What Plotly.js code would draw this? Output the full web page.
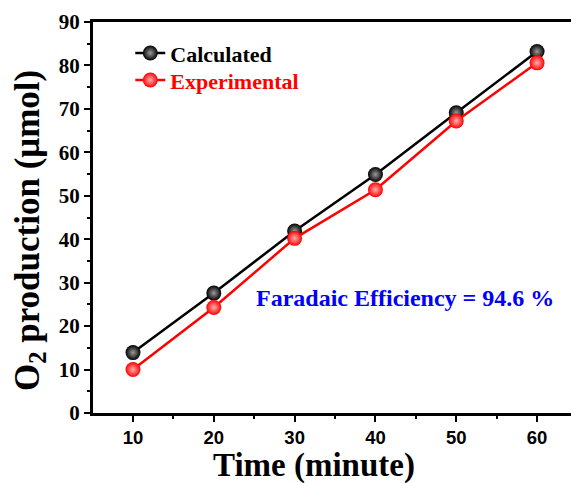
<!DOCTYPE html>
<html><head><meta charset="utf-8">
<script src="https://cdn.plot.ly/plotly-3.0.1.min.js"></script>
<style>html,body{margin:0;padding:0;background:#fff;overflow:hidden}</style>
</head><body>
<div id="chart" style="width:571px;height:483px"></div>
<script>
const timeMin = [10, 20, 30, 40, 50, 60];
const calculated = [13.9, 27.6, 41.9, 54.9, 69.1, 83.2];
const experimental = [10.0, 24.3, 40.2, 51.4, 67.2, 80.6];
const seriesNames = ['Calculated', 'Experimental'];
const xTickLabels = ['10', '20', '30', '40', '50', '60'];
const xTitle = 'Time (minute)';
const yTitle = 'O<sub>2</sub> production (μmol)';
const annotationText = 'Faradaic Efficiency = 94.6 %';

const serif = 'Liberation Serif, Times New Roman, serif';
const sans = 'Liberation Sans, Arial, sans-serif';

const traces = [
  {x: timeMin, y: calculated, name: seriesNames[0], type: 'scatter', mode: 'lines+markers',
   legend: 'legend',
   line: {color: '#000000', width: 2.5},
   marker: {size: 15, color: '#000000', gradient: {type: 'radial', color: '#9a9a9a'}}},
  {x: timeMin, y: experimental, name: '<span style="color:#ff0000">' + seriesNames[1] + '</span>', type: 'scatter', mode: 'lines+markers',
   legend: 'legend2',
   line: {color: '#ff0000', width: 2.5},
   marker: {size: 15, color: '#ff0000', gradient: {type: 'radial', color: '#ffb0b0'}}}
];

const legendFont = {family: serif, size: 22, color: '#000000', weight: 'bold'};
const layout = {
  width: 571, height: 483,
  margin: {l: 93, r: 0, t: 22, b: 70},
  paper_bgcolor: '#ffffff', plot_bgcolor: '#ffffff',
  showlegend: true,
  legend: {x: 0.078, y: 0.974, xanchor: 'left', yanchor: 'top', bgcolor: 'rgba(0,0,0,0)', font: legendFont},
  legend2: {x: 0.078, y: 0.905, xanchor: 'left', yanchor: 'top', bgcolor: 'rgba(0,0,0,0)', font: legendFont},
  xaxis: {range: [5.05, 64.2], tickvals: timeMin, ticktext: xTickLabels,
          showgrid: false, zeroline: false, showline: true, linecolor: '#000', linewidth: 3, mirror: true,
          ticks: 'outside', ticklen: 6, tickwidth: 2, tickcolor: '#000',
          minor: {tickvals: [15,25,35,45,55], ticks: 'outside', ticklen: 3, tickwidth: 2, tickcolor: '#000'},
          tickfont: {family: sans, size: 18.5, color: '#000', weight: 'bold'}},
  yaxis: {range: [0, 90], tickvals: [0,10,20,30,40,50,60,70,80,90],
          showgrid: false, zeroline: false, showline: true, linecolor: '#000', linewidth: 3, mirror: false,
          ticks: 'outside', ticklen: 6, tickwidth: 2, tickcolor: '#000',
          minor: {tickvals: [5,15,25,35,45,55,65,75,85], ticks: 'outside', ticklen: 3, tickwidth: 2, tickcolor: '#000'},
          tickfont: {family: serif, size: 21, color: '#000', weight: 'bold'}},
  annotations: [
    {x: 43.6, y: 26.5, xref: 'x', yref: 'y', text: annotationText, showarrow: false,
     font: {family: serif, size: 24, color: '#0000ff', weight: 'bold'}},
    {x: 0.4623, y: -0.1355, xref: 'paper', yref: 'paper', xanchor: 'center', yanchor: 'middle',
     text: xTitle, showarrow: false, font: {family: serif, size: 33, color: '#000', weight: 'bold'}},
    {x: -0.1339, y: 0.468, xref: 'paper', yref: 'paper', xanchor: 'center', yanchor: 'middle', textangle: -90,
     text: yTitle, showarrow: false, font: {family: serif, size: 35, color: '#000', weight: 'bold'}}
  ]
};
Plotly.newPlot('chart', traces, layout, {displayModeBar: false, staticPlot: true});
</script>
</body></html>
